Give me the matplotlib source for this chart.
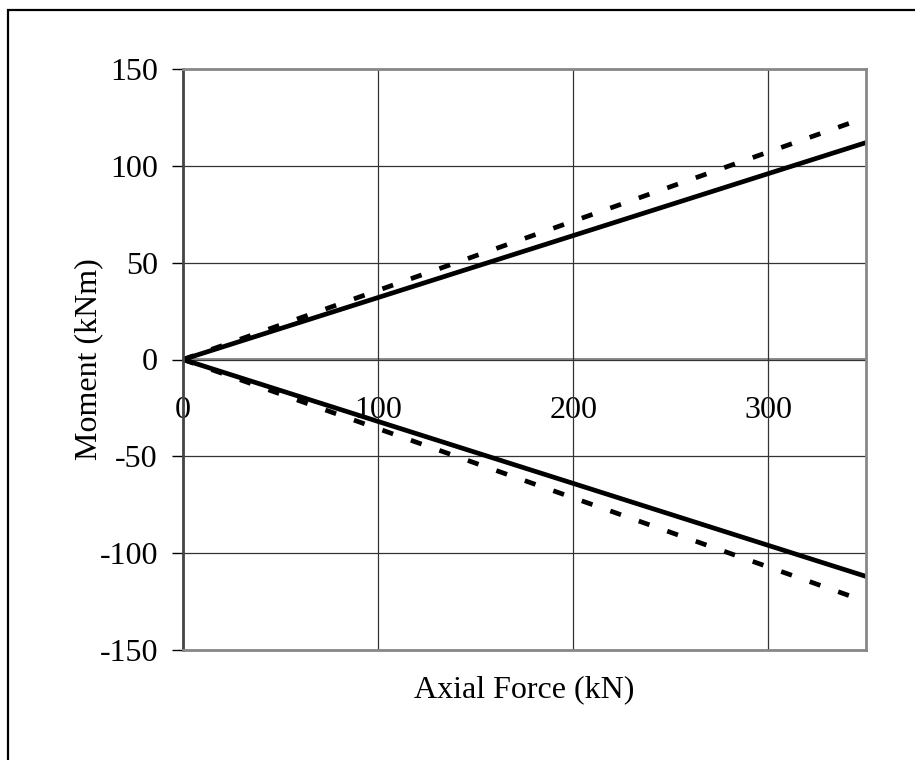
import matplotlib.pyplot as plt
from matplotlib.patches import Rectangle

# data
axial = [0, 350]
moment_solid_pos = [0, 112]
moment_solid_neg = [0, -112]
moment_dash_pos = [0, 125]
moment_dash_neg = [0, -125]

x_ticks = [0, 100, 200, 300]
y_ticks = [-150, -100, -50, 0, 50, 100, 150]

plt.rcParams['font.family'] = ['Liberation Serif', 'DejaVu Serif']
FS = 23

fig = plt.figure(figsize=(9.15, 7.6), dpi=100)
ax = fig.add_axes([183 / 915, 1 - 650 / 760, (866 - 183) / 915, (650 - 69) / 760])

# outer frame (only left and top visible in the original)
fig.patches.append(Rectangle((8 / 915, -0.1), 1.2, 1 - 10 / 760 + 0.1,
                             transform=fig.transFigure, fill=False,
                             edgecolor='black', linewidth=1.6))

LW = 3.4
ax.plot(axial, moment_solid_pos, color='black', linewidth=LW, solid_capstyle='butt')
ax.plot(axial, moment_solid_neg, color='black', linewidth=LW, solid_capstyle='butt')
ax.plot(axial, moment_dash_pos, color='black', linewidth=LW,
        dashes=(2.4, 4.0), dash_capstyle='butt')
ax.plot(axial, moment_dash_neg, color='black', linewidth=LW,
        dashes=(2.4, 4.0), dash_capstyle='butt')

ax.set_xlim(0, 350)
ax.set_ylim(-150, 150)
ax.set_yticks(y_ticks)
ax.set_yticklabels([str(v) for v in y_ticks], fontsize=FS)
ax.tick_params(axis='y', direction='out', length=8, width=1, color='black', pad=10)

ax.set_xticks(x_ticks)
ax.tick_params(axis='x', bottom=False, labelbottom=False)
ax.grid(True, color='#333333', linewidth=0.9)

for side in ['top', 'right', 'bottom']:
    ax.spines[side].set_color('#888888')
    ax.spines[side].set_linewidth(2)
ax.spines['left'].set_color('#444444')
ax.spines['left'].set_linewidth(2)

# x axis crossing at zero
sec = ax.secondary_xaxis(0.5)
sec.set_xticks(x_ticks)
sec.set_xticklabels([str(v) for v in x_ticks], fontsize=FS)
sec.xaxis.set_ticks_position('bottom')
sec.tick_params(axis='x', length=0, pad=26, labelbottom=True, labeltop=False)
for side in ['top', 'bottom']:
    sec.spines[side].set_color('#777777')
    sec.spines[side].set_linewidth(1.2)

ax.set_ylabel('Moment (kNm)', fontsize=FS, labelpad=-3)
ax.set_xlabel('Axial Force (kN)', fontsize=FS, labelpad=18)

fig.savefig('out.png', dpi=100)
